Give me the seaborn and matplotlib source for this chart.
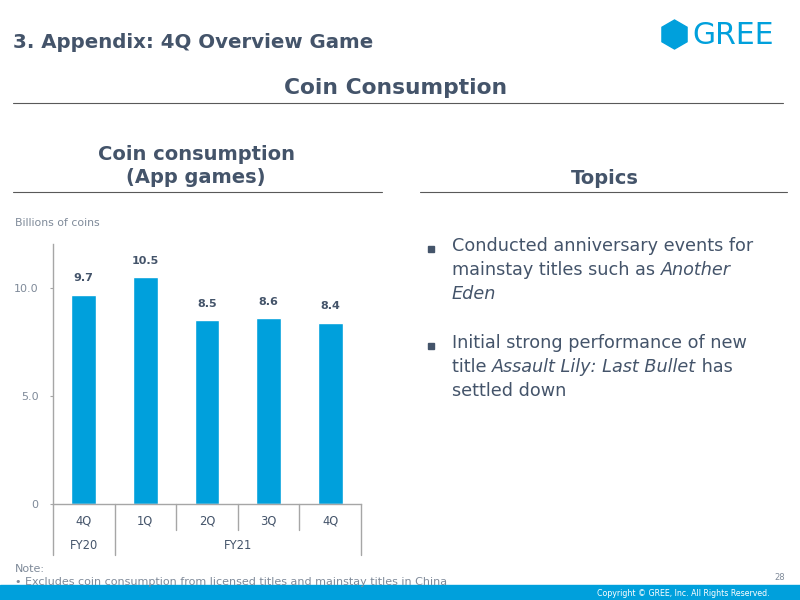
import numpy as np
import pandas as pd
import matplotlib
matplotlib.use('Agg')
import matplotlib.pyplot as plt
import matplotlib.patches as mpatches
import matplotlib.transforms as mtransforms
import seaborn as sns

#------------------------------------------------------------
# Datos
#------------------------------------------------------------
quarters = ['4Q', '1Q', '2Q', '3Q', '4Q']
fiscal_years = ['FY20', 'FY21', 'FY21', 'FY21', 'FY21']
coins = [9.7, 10.5, 8.5, 8.6, 8.4]
y_ticks = [0, 5, 10]
y_tick_labels = ['0', '5.0', '10.0']

df = pd.DataFrame({
    'periodo': [f'{fy} {q}' for fy, q in zip(fiscal_years, quarters)],
    'coins': coins,
})

TXT = '#44546A'
GRAY = '#7F8A99'
BLUE = '#00A0DC'
LINE = '#A6A6A6'

sns.set_style('white')
plt.rcParams['font.family'] = ['DejaVu Sans']

fig = plt.figure(figsize=(8, 6), dpi=100)
W, H = 800, 600

def fx(px):
    return px / W

def fy(py):
    return 1 - py / H

#------------------------------------------------------------
# Grafico de barras
#------------------------------------------------------------
ax = fig.add_axes([fx(53), fy(504), fx(361) - fx(53), fy(244) - fy(504)])
sns.barplot(data=df, x='periodo', y='coins', color=BLUE, width=0.4,
            saturation=1, ax=ax)
ax.set_ylim(0, 12.04)
ax.set_xlim(-0.5, len(coins) - 0.5)
ax.set_yticks(y_ticks)
ax.set_yticklabels(y_tick_labels, color=GRAY, fontsize=8)
ax.tick_params(axis='y', length=2.5, width=0.8, color=LINE, direction='out', pad=8, left=True)
ax.set_xticks([])
ax.set_xlabel('')
ax.set_ylabel('')
for s in ['top', 'right']:
    ax.spines[s].set_visible(False)
for s in ['left', 'bottom']:
    ax.spines[s].set_color(LINE)
    ax.spines[s].set_linewidth(1)

for i, v in enumerate(coins):
    ax.annotate(f'{v:.1f}', (i, v), xytext=(0, 12), textcoords='offset points',
                ha='center', va='center', fontsize=8, fontweight='bold', color=TXT)

# Tabla de categorias debajo del eje
trans = mtransforms.blended_transform_factory(ax.transData, ax.transAxes)
bounds = np.arange(len(coins) + 1) - 0.5
for b in bounds:
    fy_edge = b in (bounds[0], bounds[-1]) or fiscal_years[int(b - 0.5)] != fiscal_years[int(b + 0.5)]
    bottom = -0.196 if fy_edge else -0.1
    ax.plot([b, b], [0, bottom], transform=trans, color=LINE, lw=1, clip_on=False)

for i, q in enumerate(quarters):
    ax.text(i, -0.065, q, transform=trans, ha='center', va='center', fontsize=8.3, color=TXT)

fy_unique = list(dict.fromkeys(fiscal_years))
for f in fy_unique:
    idx = [i for i, v in enumerate(fiscal_years) if v == f]
    ax.text(np.mean(idx), -0.16, f, transform=trans, ha='center', va='center',
            fontsize=8.3, color=TXT)

#------------------------------------------------------------
# Textos de la diapositiva
#------------------------------------------------------------
fig.text(fx(13), fy(42), '3. Appendix: 4Q Overview Game', fontsize=14.2, fontweight='bold',
         color=TXT, va='center', ha='left')
fig.text(fx(396), fy(88), 'Coin Consumption', fontsize=15.7, fontweight='bold',
         color=TXT, va='center', ha='center')
fig.add_artist(plt.Line2D([fx(13), fx(783)], [fy(103), fy(103)], color='#595959', lw=0.8))

fig.text(fx(196), fy(166), 'Coin consumption\n(App games)', fontsize=14, fontweight='bold',
         color=TXT, va='center', ha='center', linespacing=1.3)
fig.add_artist(plt.Line2D([fx(13), fx(382)], [fy(192), fy(192)], color='#595959', lw=0.8))
fig.text(fx(605), fy(179), 'Topics', fontsize=14, fontweight='bold',
         color=TXT, va='center', ha='center')
fig.add_artist(plt.Line2D([fx(420), fx(787)], [fy(192), fy(192)], color='#595959', lw=0.8))

fig.text(fx(15), fy(223), 'Billions of coins', fontsize=7.8, color=GRAY, va='center', ha='left')

# Logo GREE (hexagono en pulgadas para que no se deforme)
fig.add_artist(mpatches.RegularPolygon((6.745, 6 - 0.345), numVertices=6, radius=0.145,
                                       orientation=0, color=BLUE, transform=fig.dpi_scale_trans))
fig.text(fx(692), fy(35), 'GREE', fontsize=21.5, color=BLUE, va='center', ha='left')

# Viñetas con partes en cursiva
renderer = fig.canvas.get_renderer()

def linea(x0, y0, partes, size=12.7):
    x = fx(x0)
    for txt, style in partes:
        t = fig.text(x, fy(y0), txt, fontsize=size, color=TXT, va='center', ha='left', style=style)
        bb = t.get_window_extent(renderer=renderer)
        x += bb.width / W

bullets = [
    [[('Conducted anniversary events for', 'normal')],
     [('mainstay titles such as ', 'normal'), ('Another', 'italic')],
     [('Eden', 'italic')]],
    [[('Initial strong performance of new', 'normal')],
     [('title ', 'normal'), ('Assault Lily: Last Bullet', 'italic'), (' has', 'normal')],
     [('settled down', 'normal')]],
]
y_start = [246, 343]
for b, y0 in zip(bullets, y_start):
    fig.add_artist(mpatches.Rectangle((fx(428), fy(y0 + 6)), fx(6), 6 / H, color=TXT,
                                      transform=fig.transFigure))
    for k, parts in enumerate(b):
        linea(452, y0 + 24 * k, parts)

# Nota y pie
fig.text(fx(15), fy(569), 'Note:', fontsize=8, color=GRAY, va='center', ha='left')
fig.text(fx(15), fy(582), '\u2022 Excludes coin consumption from licensed titles and mainstay titles in China',
         fontsize=8, color=GRAY, va='center', ha='left')
fig.text(fx(785), fy(578), '28', fontsize=6, color=GRAY, va='center', ha='right')
fig.add_artist(mpatches.Rectangle((0, 0), 1, 15 / H, color=BLUE, transform=fig.transFigure))
fig.text(fx(770), fy(593), 'Copyright \u00a9 GREE, Inc. All Rights Reserved.', fontsize=5.7,
         color='white', va='center', ha='right')

fig.savefig('out.png', dpi=100)
